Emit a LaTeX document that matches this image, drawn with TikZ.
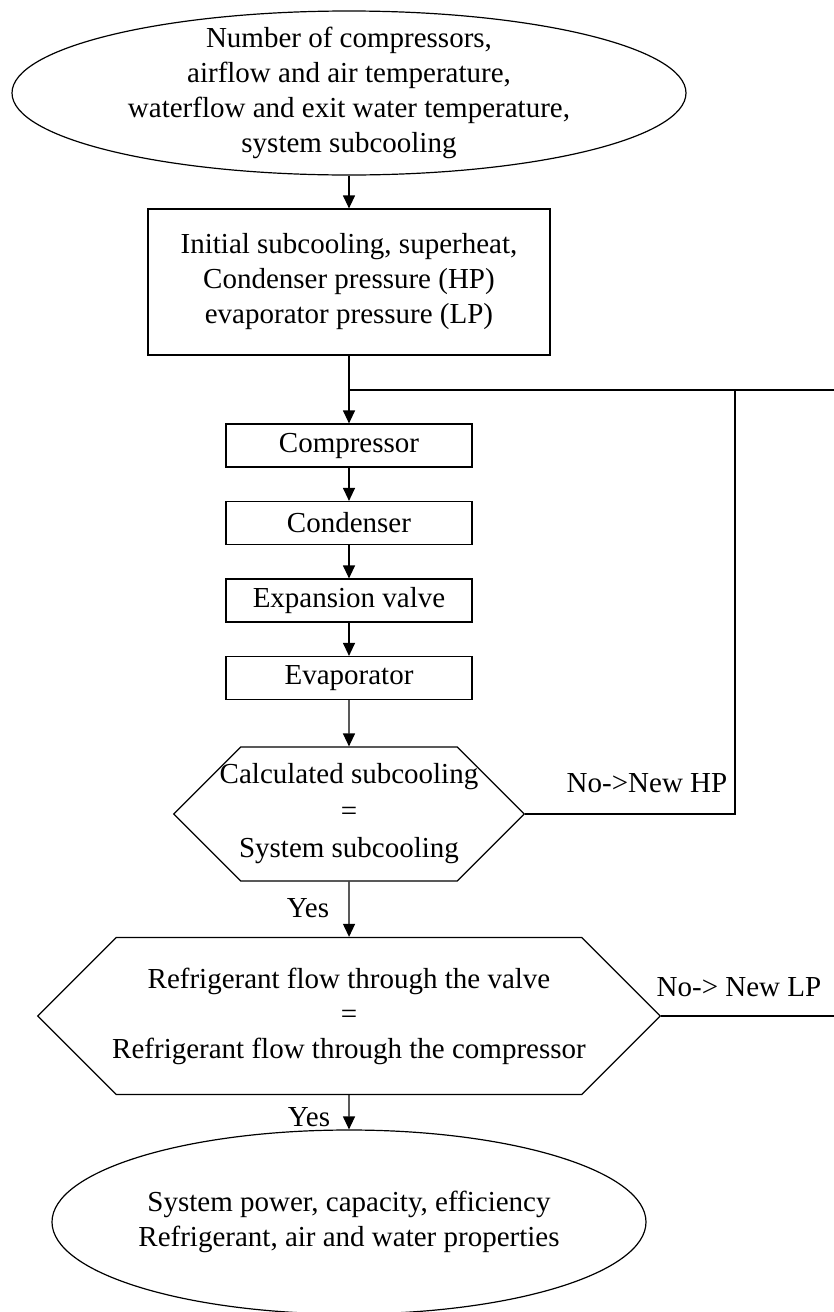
\documentclass[tikz,border=0pt]{standalone}
\usepackage{fontspec}
\setmainfont{Liberation Serif}
\usetikzlibrary{shapes.geometric, shapes.symbols, arrows.meta, positioning}

\begin{document}
\begin{tikzpicture}[
		x=1pt, y=-1pt,
		% Define styles
		every node/.style={font=\fontsize{29}{35}\selectfont},
		termnode/.style={ellipse, draw=black, line width=1.2pt, inner sep=-12pt, align=center},
		inputbox/.style={rectangle, draw=black, line width=1.2pt, minimum width=402pt, minimum height=146pt, align=center},
		compbox/.style={rectangle, draw=black, line width=1.2pt, minimum width=246pt, minimum height=43pt, inner sep=0pt},
		checknode/.style={signal, signal to=west and east, signal pointer angle=90, draw=black, line width=1.2pt, align=center},
		flowarrow/.style={-{Triangle[length=13pt, width=12pt]}, line width=1.2pt},
		loopline/.style={line width=1.2pt},
		label/.style={inner sep=0pt}
		]
		
		\useasboundingbox (0,0) rectangle (834,1312);
		\clip (0,0) rectangle (834,1312);
		
		% Input and output ellipses
		\node[termnode, minimum width=674pt, minimum height=164pt] (inputs) at (349,93) {Number of compressors,\\airflow and air temperature,\\waterflow and exit water temperature,\\system subcooling};
		\node[termnode, minimum width=594pt, minimum height=184pt] (results) at (349,1222) {System power, capacity, efficiency\\Refrigerant, air and water properties};
		
		% Initial guesses
		\node[inputbox] (guess) at (349,282) {Initial subcooling, superheat,\\Condenser pressure (HP)\\evaporator pressure (LP)};
		
		% Component models
		\node[compbox] (compressor) at (349,445.5) {Compressor};
		\node[compbox] (condenser) at (349,523) {Condenser};
		\node[compbox] (valve) at (349,600.5) {Expansion valve};
		\node[compbox] (evaporator) at (349,678) {Evaporator};
		
		% Convergence checks
		\node[checknode, minimum height=134pt, inner xsep=-21pt, font=\fontsize{29}{37}\selectfont] (subcool) at (349,814) {Calculated subcooling\\=\\System subcooling};
		\node[checknode, minimum height=157pt, inner xsep=-4pt] (massflow) at (349,1016) {Refrigerant flow through the valve\\=\\Refrigerant flow through the compressor};
		
		% Loop corners
		\coordinate (join) at (349,390);
		\coordinate (hpturn) at (735,390);
		\coordinate (lpturn) at (850,390);
		
		% Main flow
		\draw[flowarrow] (inputs) -- (guess);
		\draw[flowarrow] (guess) -- (compressor);
		\draw[flowarrow] (compressor) -- (condenser);
		\draw[flowarrow] (condenser) -- (valve);
		\draw[flowarrow] (valve) -- (evaporator);
		\draw[flowarrow] (evaporator) -- (subcool);
		\draw[flowarrow] (subcool) -- (massflow);
		\draw[flowarrow] (massflow) -- (results);
		
		% Iteration loops
		\draw[loopline] (subcool.east) -| (hpturn);
		\draw[loopline] (massflow.east) -| (lpturn) -- (join);
		
		% Branch labels
		\node[label] (hpno) at (647,783) {No->New HP};
		\node[label] (lpno) at (739,987) {No-> New LP};
		\node[label] (yes1) at (308,908) {Yes};
		\node[label] (yes2) at (309,1117) {Yes};
		
	\end{tikzpicture}
\end{document}
